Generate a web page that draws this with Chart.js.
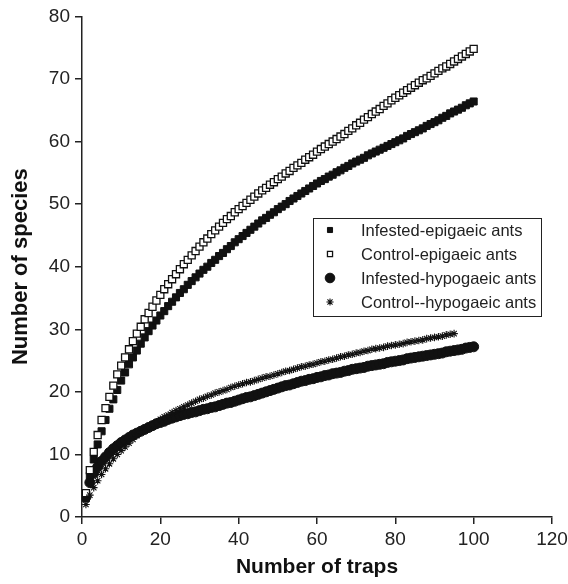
<!DOCTYPE html>
<html>
<head>
<meta charset="utf-8">
<script src="https://cdn.jsdelivr.net/npm/chart.js@4.4.1/dist/chart.umd.min.js"></script>
<style>
  html, body { margin: 0; padding: 0; background: #fff; }
  #wrap { width: 568px; height: 584px; }
</style>
</head>
<body>
<div id="wrap"><canvas id="speciesChart" width="568" height="584"></canvas></div>
<script>
// species accumulation curves, one value per trap
const seriesNames = ["Infested-epigaeic ants", "Control-epigaeic ants", "Infested-hypogaeic ants", "Control--hypogaeic ants"];

const infestedEpigaeic = [
  3.0, 6.6, 9.2, 11.6, 13.7, 15.5, 17.3, 18.8, 20.3, 21.8,
  23.1, 24.4, 25.5, 26.6, 27.7, 28.7, 29.7, 30.6, 31.4, 32.2,
  32.9, 33.7, 34.4, 35.1, 35.8, 36.4, 37.1, 37.7, 38.3, 38.9,
  39.5, 40.0, 40.6, 41.1, 41.7, 42.2, 42.8, 43.3, 43.9, 44.4,
  44.9, 45.4, 45.9, 46.4, 46.9, 47.4, 47.8, 48.3, 48.7, 49.2,
  49.6, 50.0, 50.5, 50.9, 51.3, 51.7, 52.1, 52.5, 52.9, 53.3,
  53.7, 54.0, 54.4, 54.7, 55.1, 55.4, 55.8, 56.1, 56.5, 56.8,
  57.1, 57.4, 57.8, 58.1, 58.4, 58.7, 59.0, 59.3, 59.6, 59.9,
  60.2, 60.5, 60.9, 61.2, 61.5, 61.8, 62.1, 62.5, 62.8, 63.1,
  63.4, 63.8, 64.1, 64.5, 64.8, 65.1, 65.4, 65.8, 66.1, 66.4
];

const controlEpigaeic = [
  3.8, 7.5, 10.4, 13.1, 15.5, 17.4, 19.2, 21.0, 22.8, 24.2,
  25.5, 26.8, 28.1, 29.3, 30.4, 31.6, 32.6, 33.6, 34.6, 35.5,
  36.4, 37.2, 38.0, 38.8, 39.6, 40.4, 41.1, 41.8, 42.5, 43.2,
  43.9, 44.5, 45.2, 45.8, 46.4, 47.0, 47.6, 48.1, 48.7, 49.2,
  49.7, 50.2, 50.7, 51.2, 51.7, 52.2, 52.6, 53.1, 53.5, 54.0,
  54.4, 54.9, 55.3, 55.8, 56.2, 56.6, 57.1, 57.5, 57.9, 58.4,
  58.8, 59.2, 59.6, 60.0, 60.4, 60.8, 61.2, 61.7, 62.1, 62.6,
  63.0, 63.5, 63.9, 64.4, 64.8, 65.2, 65.7, 66.1, 66.6, 67.0,
  67.4, 67.8, 68.2, 68.6, 69.0, 69.4, 69.8, 70.1, 70.5, 70.9,
  71.3, 71.7, 72.0, 72.4, 72.8, 73.2, 73.6, 74.0, 74.4, 74.8
];

const infestedHypogaeic = [
  3.2, 5.5, 7.0, 8.0, 8.9, 9.6, 10.3, 10.9, 11.4, 11.9,
  12.3, 12.7, 13.1, 13.4, 13.7, 14.0, 14.3, 14.6, 14.9, 15.1,
  15.3, 15.6, 15.8, 16.0, 16.2, 16.4, 16.5, 16.7, 16.8, 17.0,
  17.2, 17.3, 17.5, 17.6, 17.8, 18.0, 18.2, 18.3, 18.5, 18.7,
  18.9, 19.1, 19.2, 19.4, 19.6, 19.8, 20.0, 20.2, 20.4, 20.6,
  20.8, 21.0, 21.1, 21.3, 21.5, 21.7, 21.8, 22.0, 22.1, 22.3,
  22.4, 22.6, 22.7, 22.9, 23.0, 23.1, 23.3, 23.4, 23.6, 23.7,
  23.8, 23.9, 24.1, 24.2, 24.3, 24.4, 24.5, 24.7, 24.8, 24.9,
  25.0, 25.1, 25.3, 25.4, 25.5, 25.6, 25.7, 25.8, 25.9, 26.0,
  26.1, 26.2, 26.4, 26.5, 26.6, 26.7, 26.8, 27.0, 27.1, 27.2
];

const controlHypogaeic = [
  2.0, 3.5, 4.7, 5.8, 6.8, 7.7, 8.5, 9.3, 10.0, 10.6,
  11.2, 11.8, 12.4, 13.0, 13.5, 13.9, 14.4, 14.8, 15.2, 15.6,
  16.0, 16.3, 16.7, 17.0, 17.3, 17.6, 17.9, 18.2, 18.5, 18.8,
  19.0, 19.3, 19.5, 19.8, 20.0, 20.2, 20.4, 20.7, 20.9, 21.1,
  21.3, 21.5, 21.6, 21.8, 22.0, 22.2, 22.4, 22.5, 22.7, 22.9,
  23.1, 23.3, 23.4, 23.6, 23.8, 24.0, 24.1, 24.3, 24.4, 24.6,
  24.8, 24.9, 25.1, 25.2, 25.4, 25.6, 25.7, 25.9, 26.0, 26.2,
  26.3, 26.5, 26.6, 26.8, 26.9, 27.0, 27.1, 27.3, 27.4, 27.5,
  27.6, 27.7, 27.9, 28.0, 28.1, 28.2, 28.3, 28.5, 28.6, 28.7,
  28.8, 28.9, 29.1, 29.2, 29.3
];

const xTicks = [0, 20, 40, 60, 80, 100, 120];
const yTicks = [0, 10, 20, 30, 40, 50, 60, 70, 80];

function toPoints(values) {
  return values.map((v, i) => ({ x: i + 1, y: v }));
}

const markerStyles = [
  { pointStyle: "rect", pointRadius: 5, pointBackgroundColor: "#111", pointBorderColor: "#111", pointBorderWidth: 1, order: 3 },
  { pointStyle: "rect", pointRadius: 5, pointBackgroundColor: "#fff", pointBorderColor: "#111", pointBorderWidth: 1.3, order: 2 },
  { pointStyle: "circle", pointRadius: 5, pointBackgroundColor: "#111", pointBorderColor: "#111", pointBorderWidth: 1, order: 4 },
  { pointStyle: "star", pointRadius: 3.8, pointBackgroundColor: "#111", pointBorderColor: "#111", pointBorderWidth: 1.1, order: 1 }
];

const allValues = [infestedEpigaeic, controlEpigaeic, infestedHypogaeic, controlHypogaeic];

const datasets = allValues.map((vals, i) => Object.assign({
  label: seriesNames[i],
  data: toPoints(vals),
  showLine: false
}, markerStyles[i]));

// legend box drawn inside the plot, like the original figure
const boxLegend = {
  id: "boxLegend",
  afterDatasetsDraw(chart) {
    const ctx = chart.ctx;
    const left = 313, top = 218, w = 228, h = 98;
    ctx.save();
    ctx.fillStyle = "#fff";
    ctx.fillRect(left, top, w, h);
    ctx.strokeStyle = "#222";
    ctx.lineWidth = 1;
    ctx.strokeRect(left + 0.5, top + 0.5, w, h);
    ctx.font = "16.5px 'Liberation Sans', Arial, sans-serif";
    ctx.textBaseline = "middle";
    const legendRadius = [3.6, 3.6, 4.8, 3.6];
    seriesNames.forEach((name, i) => {
      const y = top + 12 + i * 24;
      const st = markerStyles[i];
      ctx.fillStyle = st.pointBackgroundColor;
      ctx.strokeStyle = st.pointBorderColor;
      ctx.lineWidth = st.pointBorderWidth;
      Chart.helpers.drawPoint(ctx, { pointStyle: st.pointStyle, radius: legendRadius[i], rotation: 0, borderWidth: st.pointBorderWidth }, 330, y);
      ctx.fillStyle = "#222";
      ctx.fillText(name, 361, y + 1);
    });
    ctx.restore();
  }
};

const tickFont = { family: "'Liberation Sans', Arial, sans-serif", size: 19 };
const titleFont = { family: "'Liberation Sans', Arial, sans-serif", size: 21, weight: "bold" };

new Chart(document.getElementById("speciesChart").getContext("2d"), {
  type: "scatter",
  data: { datasets: datasets },
  plugins: [boxLegend],
  options: {
    responsive: false,
    animation: false,
    layout: { padding: { left: 0, right: 0, top: 14, bottom: 0 } },
    plugins: {
      legend: { display: false },
      tooltip: { enabled: false }
    },
    scales: {
      x: {
        type: "linear",
        min: 0,
        max: 120,
        afterBuildTicks: (scale) => { scale.ticks = xTicks.map((v) => ({ value: v })); },
        afterFit: (scale) => { scale.height = 67; scale.paddingRight = 16; },
        ticks: { color: "#222", font: tickFont, padding: 4 },
        grid: { drawOnChartArea: false, drawTicks: true, tickLength: 7, color: "#222", lineWidth: 1.5 },
        border: { display: true, color: "#222", width: 1.5 },
        title: { display: true, text: "Number of traps", color: "#111", font: titleFont, padding: { top: 4, bottom: 4 } }
      },
      y: {
        type: "linear",
        min: 0,
        max: 80,
        afterBuildTicks: (scale) => { scale.ticks = yTicks.map((v) => ({ value: v })); },
        afterFit: (scale) => { scale.width = 82; },
        ticks: { color: "#222", font: tickFont, padding: 5 },
        grid: { drawOnChartArea: false, drawTicks: true, tickLength: 7, color: "#222", lineWidth: 1.5 },
        border: { display: true, color: "#222", width: 1.5 },
        title: { display: true, text: "Number of species", color: "#111", font: Object.assign({}, titleFont, { size: 22 }), padding: { top: 8, bottom: 4 } }
      }
    }
  }
});
</script>
</body>
</html>
